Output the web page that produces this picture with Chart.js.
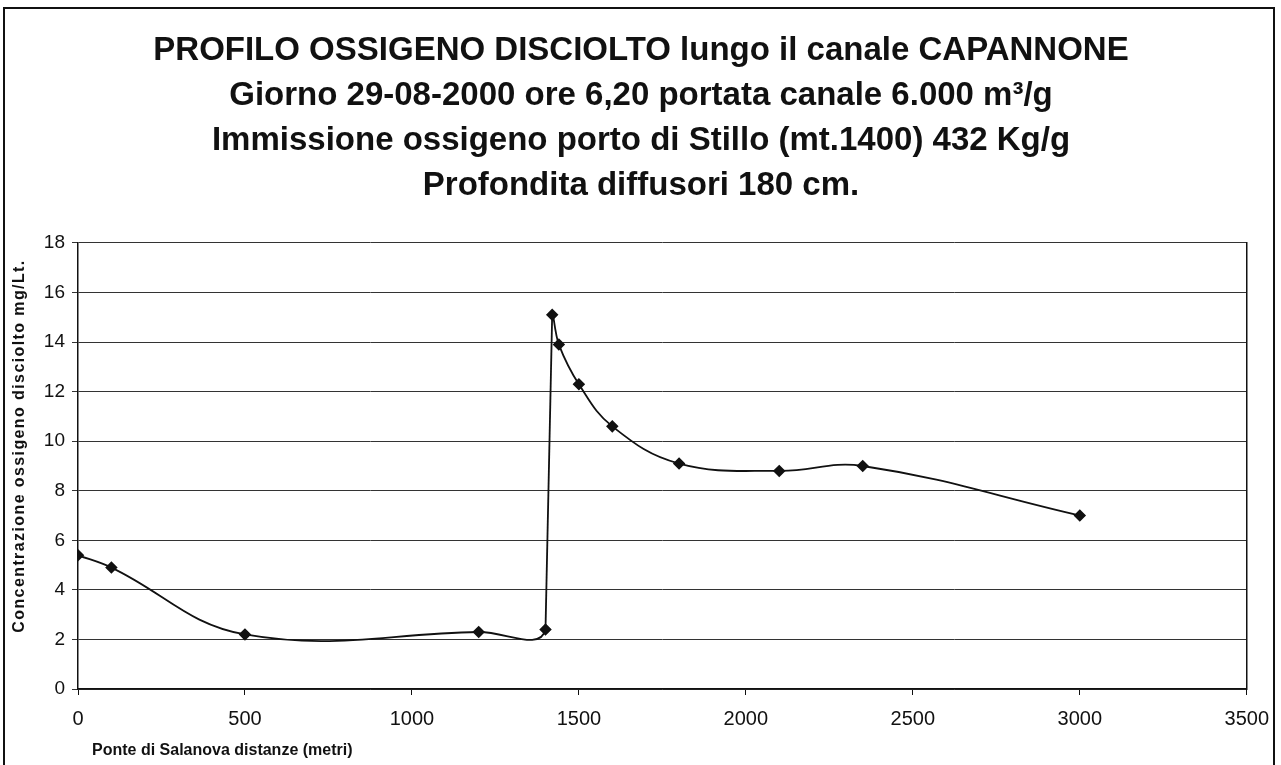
<!DOCTYPE html>
<html>
<head>
<meta charset="utf-8">
<script src="https://cdn.jsdelivr.net/npm/chart.js@4.4.0/dist/chart.umd.min.js"></script>
<style>
    html, body { margin: 0; padding: 0; background: #fff; }
    #wrap { position: relative; width: 1281px; height: 765px; overflow: hidden; }
    #frame { position: absolute; left: 3px; top: 7px; width: 1268px; height: 800px; border: 2px solid #111; pointer-events: none; }
    canvas { position: absolute; left: 0; top: 0; }
</style>
</head>
<body>
<div id="wrap">
    <canvas id="chart" width="1281" height="765"></canvas>
    <div id="frame"></div>
</div>
<script>
// Dati
const distanze = [0, 100, 500, 1200, 1400, 1420, 1440, 1500, 1600, 1800, 2100, 2350, 3000];
const ossigeno = [5.4, 4.9, 2.2, 2.3, 2.4, 15.1, 13.9, 12.3, 10.6, 9.1, 8.8, 9.0, 7.0];

const titolo = [
    'PROFILO OSSIGENO DISCIOLTO lungo il canale CAPANNONE',
    'Giorno 29-08-2000 ore 6,20 portata canale 6.000 m³/g',
    'Immissione ossigeno porto di Stillo (mt.1400) 432 Kg/g',
    'Profondita diffusori 180 cm.'
];
const titoloY = 'Concentrazione ossigeno disciolto mg/Lt.';
const titoloX = 'Ponte di Salanova distanze (metri)';

// il tratto della salita (immissione a 1400 m) e' quasi verticale: lo disegno dritto
const SALITA = 4;

const FONT = '"Liberation Sans", Arial, sans-serif';

// titoli degli assi (spaziatura larga come nell'originale)
const extras = {
    id: 'extras',
    afterDraw(chart) {
        const { ctx, chartArea } = chart;
        ctx.save();
        ctx.fillStyle = '#111';
        ctx.textBaseline = 'middle';
        ctx.font = 'bold 16px ' + FONT;
        ctx.fillText(titoloX, chartArea.left + 14, 751);

        ctx.font = 'bold 16px ' + FONT;
        if ('letterSpacing' in ctx) ctx.letterSpacing = '1.4px';
        ctx.translate(20, 446);
        ctx.rotate(-Math.PI / 2);
        ctx.textAlign = 'center';
        ctx.fillText(titoloY, 0, 0);
        ctx.restore();
    }
};

const data = distanze.map((x, i) => ({ x: x, y: ossigeno[i] }));

new Chart(document.getElementById('chart'), {
    type: 'scatter',
    data: {
        datasets: [{
            data: data,
            showLine: true,
            borderColor: '#111',
            borderWidth: 1.8,
            tension: 0.4,
            segment: {
                borderColor: ctx => ctx.p0DataIndex === SALITA ? 'transparent' : '#111'
            },
            pointStyle: 'rectRot',
            pointRadius: 5,
            pointBackgroundColor: '#111',
            pointBorderColor: '#111'
        }, {
            data: data,
            showLine: true,
            borderColor: '#111',
            borderWidth: 1.8,
            tension: 0,
            segment: {
                borderColor: ctx => ctx.p0DataIndex === SALITA ? '#111' : 'transparent'
            },
            pointRadius: 0
        }]
    },
    options: {
        responsive: false,
        animation: false,
        layout: { padding: { top: 28, left: 12, right: 11, bottom: 22 } },
        plugins: {
            legend: { display: false },
            tooltip: { enabled: false },
            title: {
                display: true,
                text: titolo,
                color: '#111',
                font: { family: FONT, size: 33, weight: 'bold', lineHeight: 1.3636 },
                padding: { top: 0, bottom: 35 }
            }
        },
        scales: {
            x: {
                type: 'linear',
                min: 0,
                max: 3500,
                ticks: { stepSize: 500, color: '#111', font: { family: FONT, size: 20 }, padding: 12, callback: v => String(v) },
                grid: { display: true, drawOnChartArea: false, color: '#111', tickLength: 6 },
                border: { color: '#111', width: 1.5 }
            },
            y: {
                min: 0,
                max: 18,
                ticks: { stepSize: 2, color: '#111', font: { family: FONT, size: 19 }, padding: 7 },
                grid: { color: '#333', lineWidth: 1, tickLength: 6 },
                border: { color: '#111', width: 1.5 },
                afterFit: scale => { scale.width = 66; }
            },
            bordo: {
                position: 'right',
                min: 0,
                max: 18,
                ticks: { display: false },
                grid: { display: false },
                border: { color: '#111', width: 1.5 },
                afterFit: scale => { scale.width = 21; }
            }
        }
    },
    plugins: [extras]
});
</script>
</body>
</html>
